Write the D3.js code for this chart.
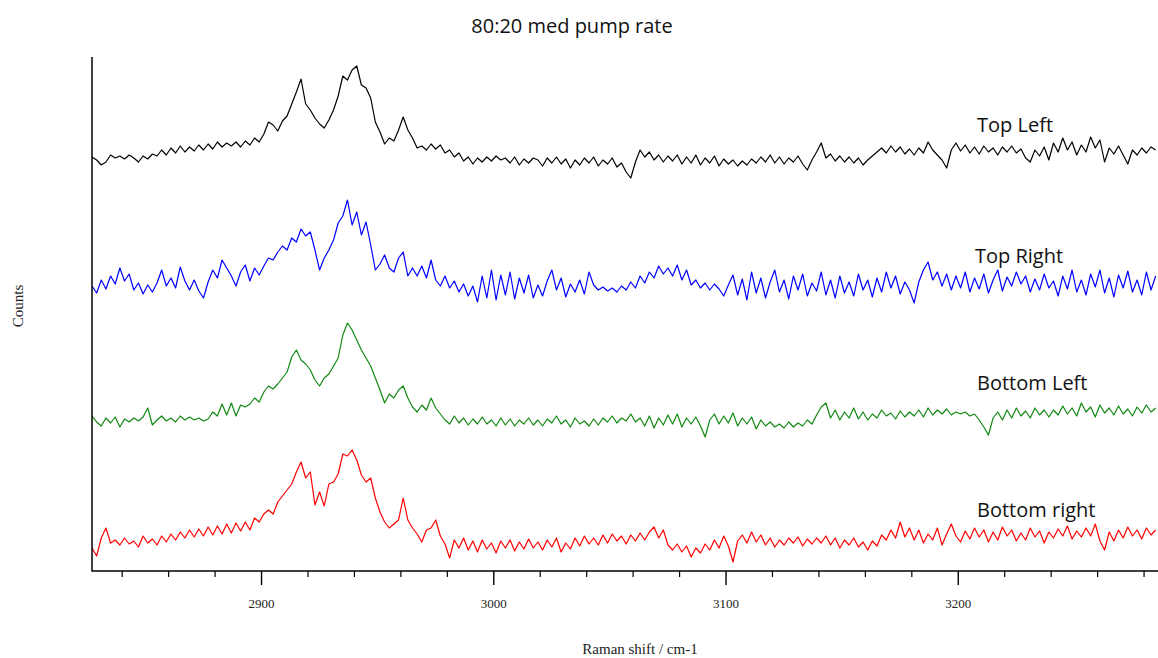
<!DOCTYPE html>
<html>
<head>
<meta charset="utf-8">
<script src="https://cdn.jsdelivr.net/npm/d3@7"></script>
<style>
  html, body { margin: 0; padding: 0; background: #fff; }
  svg { display: block; }
</style>
</head>
<body>
<svg id="chart" width="1158" height="658"></svg>
<script>
// ---- data ----
const shiftStart = 2827;   // cm-1, first sample
const shiftStep = 2;       // cm-1 between samples

const seriesNames = ["Top Left", "Top Right", "Bottom Left", "Bottom right"];
const seriesColors = ["#000000", "#0000ff", "#118811", "#ff0000"];

const topLeft = [414,411,406,409,416,413,415,412,416,413,409,415,412,417,415,421,416,423,418,425,419,424,420,426,421,427,422,429,424,428,425,429,424,430,426,433,429,437,449,446,440,450,455,467,479,492,467,461,453,447,443,451,461,475,495,491,501,505,486,483,473,449,439,427,433,430,441,454,441,433,423,425,421,427,422,426,418,421,414,418,410,414,407,413,409,414,410,415,411,413,408,414,406,412,408,413,
411,405,413,408,414,407,412,403,411,406,413,408,414,405,411,407,413,404,408,399,393,409,421,414,419,411,416,409,415,410,416,407,414,408,416,406,413,408,415,405,412,407,411,405,410,406,412,408,414,409,416,408,414,407,413,409,415,407,401,411,419,428,413,417,410,415,409,414,408,413,406,411,415,419,423,418,425,419,424,417,422,416,423,418,429,421,416,411,403,421,428,420,426,418,424,417,425,419,423,416,424,419,425,418,422,413,409,421,415,424,411,428,419,433,421,429,416,426,419,434,423,431,409,423,417,425,416,407,421,416,423,418,424,421];

const topRight = [285,278,291,282,295,287,303,290,297,281,288,277,286,279,288,301,285,293,283,304,290,281,291,280,273,289,301,293,311,303,295,285,299,306,290,303,296,305,313,311,319,325,321,333,329,342,335,339,321,301,313,321,331,348,355,371,346,359,336,349,326,301,307,316,303,299,313,319,295,303,295,305,293,311,291,285,295,283,290,279,287,275,285,269,295,273,301,271,296,276,299,272,293,278,296,273,
286,275,290,301,281,293,274,287,279,291,277,299,286,281,284,280,283,279,285,281,289,283,295,288,299,293,305,297,303,295,306,291,301,286,291,283,288,281,287,282,275,286,296,276,292,271,299,278,293,273,289,301,279,291,272,295,281,297,275,288,280,299,276,291,273,295,278,289,275,297,281,291,274,293,279,299,283,295,277,289,281,268,289,301,309,291,299,285,297,281,295,283,299,279,293,282,297,278,291,301,280,294,285,299,287,295,279,292,281,297,283,290,275,295,282,301,279,291,276,297,284,301,278,293,274,296,283,300,279,291,276,299,281,295];

const bottomLeft = [155,149,145,153,148,154,144,152,149,153,150,154,163,146,151,155,150,153,149,155,151,154,151,153,150,152,159,155,167,156,168,155,166,164,167,173,169,179,185,182,187,193,199,214,221,211,207,201,191,185,193,197,205,213,236,248,241,231,221,213,205,193,181,168,177,173,181,185,173,164,159,166,161,173,163,157,151,147,155,148,153,146,152,147,154,147,151,145,153,146,152,145,151,147,153,146,
151,145,152,148,155,147,151,144,153,147,150,145,152,146,153,149,155,148,153,150,157,149,153,145,155,143,153,146,156,147,157,144,153,147,154,145,134,151,157,147,155,148,158,145,153,147,154,142,151,145,149,144,147,143,149,144,148,145,151,147,156,164,168,153,161,151,159,153,163,152,159,151,157,153,161,155,158,152,160,154,159,155,161,154,163,156,161,157,162,156,159,157,159,155,157,151,144,136,153,159,151,161,153,163,155,160,153,163,156,161,154,161,156,165,157,163,155,168,159,164,154,166,158,163,156,165,157,162,155,164,158,166,159,163];

const bottomRight = [23,15,33,43,28,31,26,33,27,30,24,35,28,32,26,35,29,37,31,39,33,41,34,42,35,44,36,45,37,47,38,48,40,49,41,53,49,57,61,57,69,75,81,87,99,109,93,99,66,79,65,87,89,97,117,115,121,111,96,89,93,73,59,49,43,47,51,73,51,43,37,29,41,43,51,35,27,13,31,23,33,21,30,19,31,22,28,18,30,23,31,20,29,22,32,23,
29,21,31,24,33,19,28,22,33,25,35,27,33,26,36,28,37,30,35,27,36,30,38,31,39,44,33,41,26,21,27,19,25,14,23,18,27,21,31,23,35,25,9,30,36,28,39,29,36,26,33,24,31,26,33,28,34,25,32,27,33,28,35,26,33,23,31,26,33,24,29,21,30,25,36,31,41,33,49,34,43,31,41,28,37,31,43,26,37,47,35,29,40,32,43,34,41,29,39,31,44,35,41,30,38,31,43,34,40,28,39,33,42,35,45,32,40,34,43,35,47,30,21,39,30,41,33,44,35,41,32,43,36,41];

const seriesValues = [topLeft, topRight, bottomLeft, bottomRight];

const majorTicks = [2900, 3000, 3100, 3200];
const minorTicks = [2840, 2860, 2880, 2920, 2940, 2960, 2980, 3020, 3040, 3060, 3080,
                    3120, 3140, 3160, 3180, 3220, 3240, 3260, 3280];

const titleText = "80:20 med pump rate";
const xLabel = "Raman shift / cm-1";
const yLabel = "Counts";

// ---- layout ----
const svg = d3.select("#chart");
const pL = 92, pR = 1158, pT = 57, pB = 571;

const x = d3.scaleLinear().domain([2827, 3286]).range([pL, pR]);
const y = d3.scaleLinear().domain([0, 514]).range([pB, pT]);

const shifts = d3.range(topLeft.length).map(i => shiftStart + i * shiftStep);

svg.append("defs").append("clipPath").attr("id", "plotClip")
  .append("rect").attr("x", pL).attr("y", 0).attr("width", pR - pL).attr("height", pB);

const line = d3.line().x((d, i) => x(shifts[i])).y(d => y(d));

const g = svg.append("g").attr("clip-path", "url(#plotClip)");
seriesValues.forEach((vals, k) => {
  g.append("path")
    .attr("d", line(vals))
    .attr("fill", "none")
    .attr("stroke", seriesColors[k])
    .attr("stroke-width", 1.2)
    .attr("stroke-linejoin", "round");
});

// axes
svg.append("line").attr("x1", pL).attr("x2", pL).attr("y1", pT).attr("y2", pB + 0.5)
  .attr("stroke", "#000").attr("stroke-width", 1.5);
svg.append("line").attr("x1", pL).attr("x2", pR).attr("y1", pB).attr("y2", pB)
  .attr("stroke", "#000").attr("stroke-width", 1.5);

svg.selectAll(".minor").data(minorTicks).enter().append("line")
  .attr("x1", d => x(d)).attr("x2", d => x(d))
  .attr("y1", pB).attr("y2", pB + 6)
  .attr("stroke", "#000").attr("stroke-width", 1.2);
svg.selectAll(".major").data(majorTicks).enter().append("line")
  .attr("x1", d => x(d)).attr("x2", d => x(d))
  .attr("y1", pB).attr("y2", pB + 14)
  .attr("stroke", "#000").attr("stroke-width", 1.4);
svg.selectAll(".tlab").data(majorTicks).enter().append("text")
  .attr("x", d => x(d)).attr("y", pB + 37)
  .attr("text-anchor", "middle")
  .attr("font-family", "'Liberation Serif', 'DejaVu Serif', serif")
  .attr("font-size", 13).attr("fill", "#222")
  .text(d => d);

// labels
svg.append("text").attr("x", 572).attr("y", 33).attr("text-anchor", "middle")
  .attr("font-family", "'Open Sans', 'Noto Sans', sans-serif").attr("font-size", 20)
  .attr("fill", "#111").text(titleText);

svg.append("text").attr("x", 640).attr("y", 654).attr("text-anchor", "middle")
  .attr("font-family", "'Liberation Serif', serif").attr("font-size", 15)
  .attr("fill", "#222").text(xLabel);

svg.append("text").attr("transform", "translate(23,306) rotate(-90)")
  .attr("text-anchor", "middle")
  .attr("font-family", "'Liberation Serif', serif").attr("font-size", 15)
  .attr("fill", "#222").text(yLabel);

const labelPos = [132, 263, 390, 517];
seriesNames.forEach((name, k) => {
  svg.append("text").attr("x", k === 1 ? 975 : 977).attr("y", labelPos[k])
    .attr("font-family", "'Open Sans', 'Noto Sans', sans-serif").attr("font-size", 20)
    .attr("fill", "#111").text(name);
});
</script>
</body>
</html>
